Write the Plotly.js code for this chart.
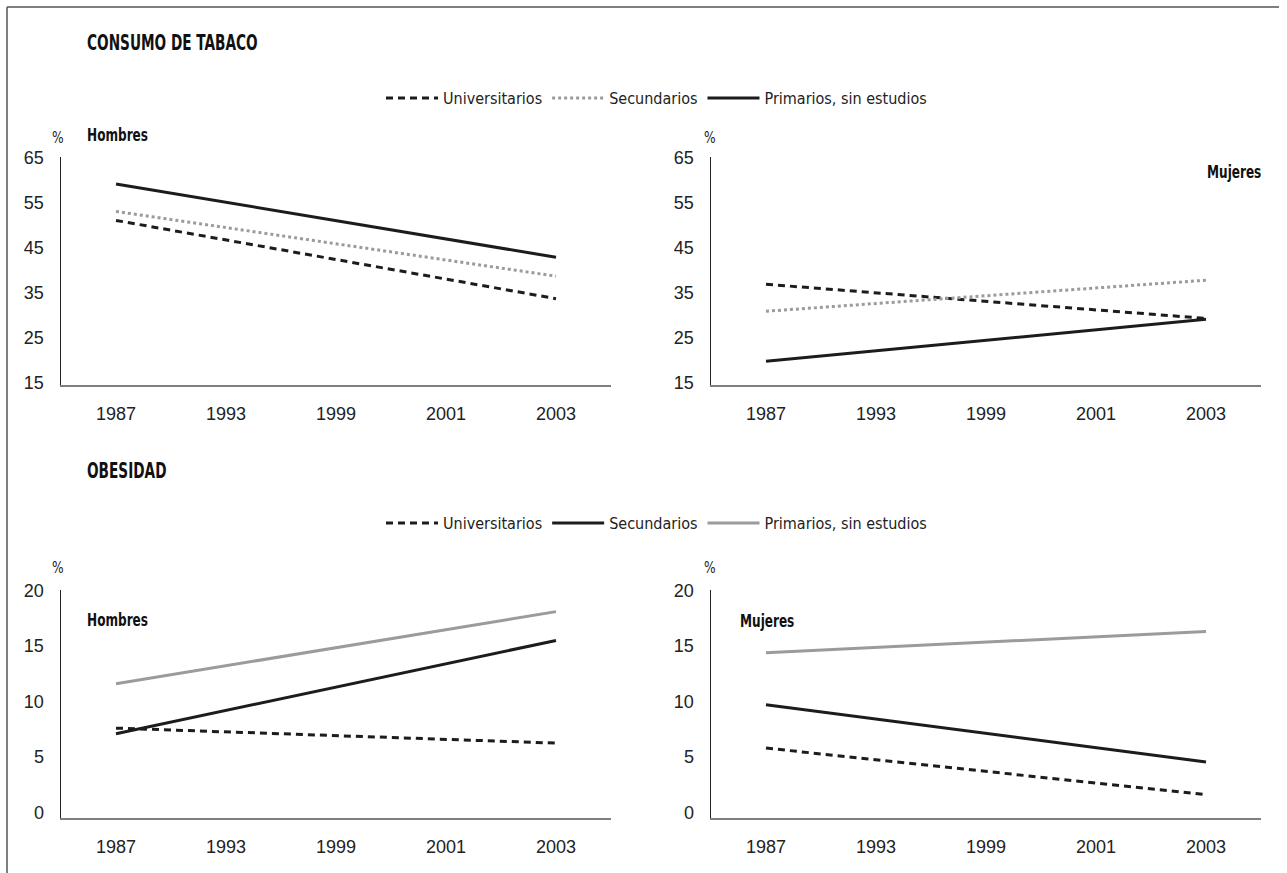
<!DOCTYPE html>
<html>
<head>
<meta charset="utf-8">
<script src="https://cdn.plot.ly/plotly-3.0.1.min.js"></script>
<style>
html,body{margin:0;padding:0;background:#fff;}
#chart{width:1287px;height:873px;}
</style>
</head>
<body>
<div id="chart"></div>
<script>
// ---- Data ----
const years = ['1987', '1993', '1999', '2001', '2003'];
const endYears = ['1987', '2003'];
const seriesNames = ['Universitarios', 'Secundarios', 'Primarios, sin estudios'];

// Consumo de tabaco (%)
const tabacoHombresUniv = [51.0, 33.6];
const tabacoHombresSec = [53.0, 38.6];
const tabacoHombresPrim = [59.1, 42.8];
const tabacoMujeresUniv = [36.8, 29.2];
const tabacoMujeresSec = [30.8, 37.7];
const tabacoMujeresPrim = [19.7, 29.0];

// Obesidad (%)
const obesidadHombresUniv = [7.6, 6.25];
const obesidadHombresSec = [7.1, 15.5];
const obesidadHombresPrim = [11.6, 18.1];
const obesidadMujeresUniv = [5.8, 1.6];
const obesidadMujeresSec = [9.7, 4.55];
const obesidadMujeresPrim = [14.4, 16.3];

const tabacoTicks = [15, 25, 35, 45, 55, 65];
const obesidadTicks = [0, 5, 10, 15, 20];

// ---- Styles ----
const BLACK = '#1c1c1c';
const GRAY = '#9b9b9b';
const styDash = {color: BLACK, width: 3, dash: '7px,5px'};
const styDot = {color: GRAY, width: 3, dash: '3px,3px'};
const stySolidBlack = {color: BLACK, width: 3};
const stySolidGray = {color: GRAY, width: 3};

function tr(y, line, name, xa, ya, legend, show) {
  return {
    x: endYears, y: y, type: 'scatter', mode: 'lines', name: name,
    line: line, xaxis: xa, yaxis: ya, legend: legend, showlegend: show,
    hoverinfo: 'skip'
  };
}

const data = [
  tr(tabacoHombresUniv, styDash, seriesNames[0], 'x', 'y', 'legend', true),
  tr(tabacoHombresSec, styDot, seriesNames[1], 'x', 'y', 'legend', true),
  tr(tabacoHombresPrim, stySolidBlack, seriesNames[2], 'x', 'y', 'legend', true),
  tr(tabacoMujeresUniv, styDash, seriesNames[0], 'x2', 'y2', 'legend', false),
  tr(tabacoMujeresSec, styDot, seriesNames[1], 'x2', 'y2', 'legend', false),
  tr(tabacoMujeresPrim, stySolidBlack, seriesNames[2], 'x2', 'y2', 'legend', false),
  tr(obesidadHombresUniv, styDash, seriesNames[0], 'x3', 'y3', 'legend2', true),
  tr(obesidadHombresSec, stySolidBlack, seriesNames[1], 'x3', 'y3', 'legend2', true),
  tr(obesidadHombresPrim, stySolidGray, seriesNames[2], 'x3', 'y3', 'legend2', true),
  tr(obesidadMujeresUniv, styDash, seriesNames[0], 'x4', 'y4', 'legend2', false),
  tr(obesidadMujeresSec, stySolidBlack, seriesNames[1], 'x4', 'y4', 'legend2', false),
  tr(obesidadMujeresPrim, stySolidGray, seriesNames[2], 'x4', 'y4', 'legend2', false)
];

// ---- Layout ----
const W = 1287, H = 873;
const px = v => v / W;
const py = v => 1 - v / H;
const COND = 'DejaVu Sans Condensed, Liberation Sans Narrow, Arial Narrow, sans-serif';
const tickFont = {family: 'Liberation Sans, Arial, sans-serif', size: 18, color: '#222'};

function xax(domain, anchor) {
  return {
    domain: domain, anchor: anchor, type: 'category',
    categoryorder: 'array', categoryarray: years,
    tickmode: 'array', tickvals: years, ticktext: years,
    range: [-0.5, 4.5], showline: true, linecolor: '#7f7f7f', linewidth: 2,
    showgrid: false, zeroline: false, ticks: '', ticklabelstandoff: 11,
    tickfont: tickFont, fixedrange: true
  };
}
function yax(domain, anchor, range, ticks) {
  return {
    domain: domain, anchor: anchor, range: range,
    tickmode: 'array', tickvals: ticks, ticktext: ticks.map(String),
    showline: true, linecolor: '#222', linewidth: 1.5,
    showgrid: false, zeroline: false, ticks: '', ticklabelstandoff: 12,
    tickfont: tickFont, fixedrange: true
  };
}

const leftX = [px(61), px(611)];
const rightX = [px(711), px(1261)];
const topY = [py(385), py(157)];
const botY = [py(818), py(590)];

const boldFont = {family: COND, size: 17, color: '#111', weight: 'bold'};
const titleFont = {family: COND, size: 22, color: '#111', weight: 'bold'};
const pctFont = {family: COND, size: 16, color: '#222'};

function ann(text, x, y, font, xanchor) {
  return {text: text, x: px(x), y: py(y), xref: 'paper', yref: 'paper',
    xanchor: xanchor || 'left', yanchor: 'middle', showarrow: false, font: font};
}

const legendFont = {family: COND, size: 16, color: '#222'};

const annotations = [
  ann('CONSUMO DE TABACO', 85, 42, titleFont),
  ann('OBESIDAD', 85, 470, titleFont),
  ann('%', 59, 137, pctFont, 'center'),
  ann('%', 711, 137, pctFont, 'center'),
  ann('%', 59, 567, pctFont, 'center'),
  ann('%', 711, 567, pctFont, 'center'),
  ann('Hombres', 85, 135, boldFont),
  ann('Mujeres', 1205, 172, boldFont),
  ann('Hombres', 85, 620, boldFont),
  ann('Mujeres', 738, 621, boldFont)
];
// horizontal condensing of the heavy labels (style only)
const annScaleX = [0.69, 0.69, 0.85, 0.85, 0.85, 0.85, 0.79, 0.79, 0.79, 0.79];

const layout = {
  width: W, height: H,
  margin: {l: 0, r: 0, t: 0, b: 0},
  paper_bgcolor: '#fff', plot_bgcolor: '#fff',
  xaxis: xax(leftX, 'y'), yaxis: yax(topY, 'x', [14.4, 65.1], tabacoTicks),
  xaxis2: xax(rightX, 'y2'), yaxis2: yax(topY, 'x2', [14.4, 65.1], tabacoTicks),
  xaxis3: xax(leftX, 'y3'), yaxis3: yax(botY, 'x3', [-0.5, 20.05], obesidadTicks),
  xaxis4: xax(rightX, 'y4'), yaxis4: yax(botY, 'x4', [-0.5, 20.05], obesidadTicks),
  legend: {orientation: 'h', x: px(381), y: py(98), xanchor: 'left', yanchor: 'middle',
    itemwidth: 52, font: legendFont, bgcolor: 'rgba(0,0,0,0)', itemclick: false, itemdoubleclick: false},
  legend2: {orientation: 'h', x: px(381), y: py(523), xanchor: 'left', yanchor: 'middle',
    itemwidth: 52, font: legendFont, bgcolor: 'rgba(0,0,0,0)', itemclick: false, itemdoubleclick: false},
  annotations: annotations,
  shapes: [
    {type: 'line', xref: 'paper', yref: 'paper', x0: px(7), x1: px(7), y0: py(7), y1: py(880),
      line: {color: '#555', width: 1.5}},
    {type: 'line', xref: 'paper', yref: 'paper', x0: px(7), x1: px(1279), y0: py(7), y1: py(7),
      line: {color: '#555', width: 1.5}}
  ]
};

Plotly.newPlot('chart', data, layout, {displayModeBar: false, staticPlot: true}).then(gd => {
  annScaleX.forEach((s, i) => {
    const g = gd.querySelector('g.annotation[data-index="' + i + '"]');
    if (!g || s === 1) return;
    const t = g.querySelector('text.annotation-text');
    if (!t) return;
    const bb = t.getBBox();
    const cx = bb.x;
    const prev = t.getAttribute('transform') || '';
    t.setAttribute('transform', prev + ' translate(' + (cx * (1 - s)) + ',0) scale(' + s + ',1)');
  });
});
</script>
</body>
</html>
